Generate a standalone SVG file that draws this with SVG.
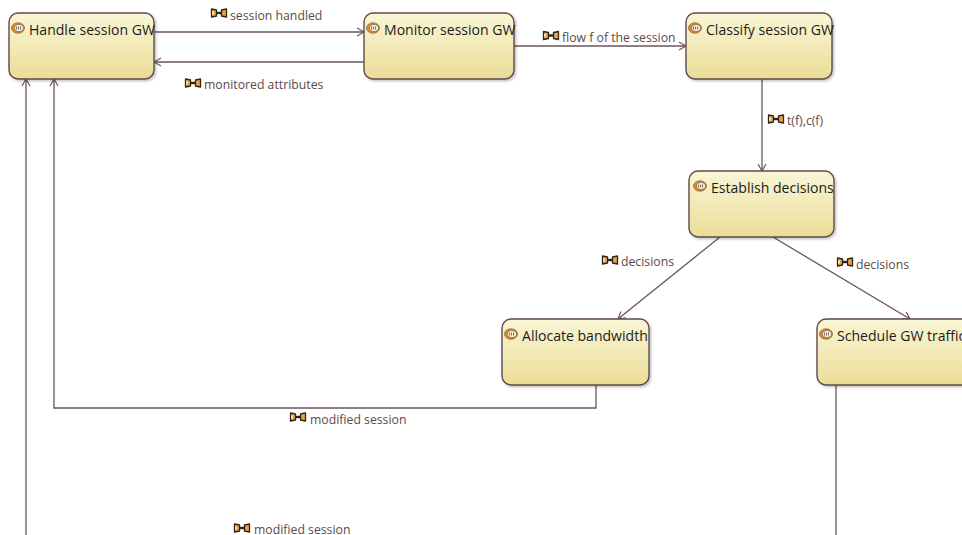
<svg xmlns="http://www.w3.org/2000/svg" width="962" height="535" viewBox="0 0 962 535">
<style>
.box{fill:url(#g);stroke:#5f4a4a;stroke-width:1.4;filter:url(#s)}
.t{font-family:"Open Sans","Noto Sans",sans-serif;font-size:14.05px;fill:#1c1c1c}
.l{font-family:"Open Sans","Noto Sans",sans-serif;font-size:12.25px;fill:#5c4a4a}
.c{fill:none;stroke:#6a5558;stroke-width:1.3;marker-end:url(#a)}
.n{fill:none;stroke:#6a5558;stroke-width:1.3}
</style>
<defs>
<linearGradient id="g" x1="0" y1="0" x2="0" y2="1"><stop offset="0" stop-color="#f9f6d6"/><stop offset="1" stop-color="#ebdd98"/></linearGradient>
<filter id="s" x="-5%" y="-5%" width="112%" height="115%"><feDropShadow dx="1.5" dy="1.5" stdDeviation="1" flood-color="#000" flood-opacity=".25"/></filter>
<marker id="a" markerUnits="userSpaceOnUse" markerWidth="10" markerHeight="10" refX="8" refY="5" orient="auto"><path d="M1 1L8 5L1 9" fill="none" stroke="#6a5558" stroke-width="1.2"/></marker>
<g id="ic"><ellipse cx="0" cy="0" rx="6.5" ry="5.2" fill="#e08a25" stroke="#8a6a3a" stroke-width=".8"/><ellipse cx="1" cy="0" rx="4.6" ry="3.6" fill="#f5efd8" stroke="#6a5a4a" stroke-width=".6"/><path d="M-1.5 -1.5V1.5M.5 -1.5V1.5M2.5 -1.5V1.5" stroke="#555" stroke-width=".8"/></g>
<g id="li"><path d="M-7.5 -4L-2.5 -3V3L-7.5 4ZM7.5 -4L2.5 -3V3L7.5 4Z" fill="#eaa445" stroke="#2e2618" stroke-width="1.3" stroke-linejoin="round"/><path d="M-2.5 0H2.5" stroke="#2e2618" stroke-width="2.4"/><path d="M-6 -1.5V1.5" stroke="#fbf2d8" stroke-width="1.6"/></g>
</defs>
<rect width="962" height="535" fill="#fff"/>
<g id="connectors">
<path class="c" d="M155 32H364"/>
<path class="c" d="M364 62H154"/>
<path class="c" d="M514 46H686"/>
<path class="c" d="M762 79V171"/>
<path class="c" d="M720 237L618 319"/>
<path class="c" d="M773 237L910 319"/>
<path class="c" d="M596 385V408H54V79"/>
<path class="c" d="M26 535V79"/>
<path class="n" d="M836 385V535"/>
<use href="#li" x="219" y="13"/><text class="l" x="230" y="19.500">session handled</text>
<use href="#li" x="193" y="83"/><text class="l" x="204" y="89">monitored attributes</text>
<use href="#li" x="551" y="35.500"/><text class="l" x="562" y="42">flow f of the session</text>
<use href="#li" x="776" y="119"/><text class="l" x="787" y="125">t(f),c(f)</text>
<use href="#li" x="610" y="260"/><text class="l" x="621" y="266">decisions</text>
<use href="#li" x="845" y="262"/><text class="l" x="856" y="268.500">decisions</text>
<use href="#li" x="298" y="417"/><text class="l" x="310" y="423.500">modified session</text>
<use href="#li" x="242" y="528"/><text class="l" x="254" y="534">modified session</text>
</g>
<g id="handle"><rect class="box" x="9" y="13" width="145" height="66" rx="9"/><use href="#ic" x="18" y="28"/><text class="t" x="29" y="34.500">Handle session GW</text></g>
<g id="monitor"><rect class="box" x="364" y="13" width="150" height="66" rx="9"/><use href="#ic" x="373" y="28"/><text class="t" x="384" y="34.500">Monitor session GW</text></g>
<g id="classify"><rect class="box" x="686" y="13" width="146" height="66" rx="9"/><use href="#ic" x="695" y="28"/><text class="t" x="706" y="34.500">Classify session GW</text></g>
<g id="establish"><rect class="box" x="689" y="171" width="145" height="66" rx="9"/><use href="#ic" x="700" y="186"/><text class="t" x="711" y="192.500">Establish decisions</text></g>
<g id="allocate"><rect class="box" x="502" y="319" width="147" height="66" rx="9"/><use href="#ic" x="511" y="334"/><text class="t" x="522" y="340.500">Allocate bandwidth</text></g>
<g id="schedule"><rect class="box" x="817" y="319" width="170" height="66" rx="9"/><use href="#ic" x="826" y="334"/><text class="t" x="837" y="340.500">Schedule GW traffic</text></g>
</svg>
